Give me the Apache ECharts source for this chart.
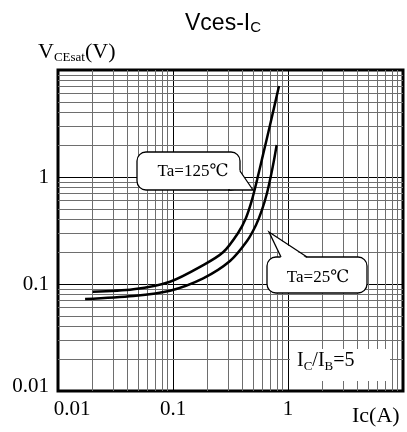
<!DOCTYPE html>
<html>
<head>
<meta charset="utf-8">
<title>Vces-Ic</title>
<script src="https://cdn.jsdelivr.net/npm/echarts@6/dist/echarts.min.js"></script>
<style>html,body{margin:0;padding:0;background:#fff}</style>
</head>
<body>
<div id="main" style="width:407px;height:432px;"></div>
<script type="text/javascript">

    // Ta = 125 C curve (Ic in A, VCEsat in V)
    var ic125 = [0.0200, 0.0452, 0.0942, 0.183, 0.274, 0.368, 0.431, 0.486, 0.538, 0.606, 0.698, 0.835];
    var vce125 = [0.0847, 0.0892, 0.105, 0.150, 0.199, 0.300, 0.414, 0.610, 0.938, 1.61, 3.06, 7.09];

    // Ta = 25 C curve
    var ic25 = [0.0172, 0.0452, 0.0942, 0.183, 0.313, 0.440, 0.527, 0.594, 0.657, 0.712, 0.756, 0.797];
    var vce25 = [0.0724, 0.0773, 0.0866, 0.113, 0.164, 0.252, 0.356, 0.492, 0.709, 1.04, 1.44, 1.99];

    var xTickLabels = ['0.01', '0.1', '1', ''];
    var yTickLabels = ['0.01', '0.1', '1', ''];
    var decades = [0.01, 0.1, 1];

    var serif = 'Liberation Serif';

    function pairs(xs, ys) {
        return xs.map(function (x, i) { return [x, ys[i]]; });
    }

    // light grid lines at 2..9 of every decade
    var minorVals = [];
    decades.forEach(function (d) {
        for (var k = 2; k <= 9; k++) {
            minorVals.push(+(k * d).toPrecision(3));
        }
    });
    var gridMarks = minorVals.map(function (v) { return { xAxis: v }; })
        .concat(minorVals.map(function (v) { return { yAxis: v }; }));

    var myChart = echarts.init(document.getElementById('main'));
    var option = {
        animation: false,
        grid: {
            left: 58, top: 70, right: 4, bottom: 41,
            show: true, borderColor: '#000', borderWidth: 3
        },
        xAxis: {
            type: 'log', logBase: 10, min: 0.01, max: 10,
            axisLine: { show: false },
            axisTick: { show: false },
            splitLine: { show: true, lineStyle: { color: '#000', width: 1 } },
            axisLabel: {
                margin: 8, fontFamily: serif, fontSize: 21, color: '#000',
                formatter: function (v, i) {
                    return i === 0 ? '{sh|' + xTickLabels[i] + '}' : (xTickLabels[i] || '');
                },
                rich: { sh: { padding: [0, 0, 0, 28], fontFamily: serif, fontSize: 21, color: '#000' } }
            }
        },
        yAxis: {
            type: 'log', logBase: 10, min: 0.01, max: 10,
            axisLine: { show: false },
            axisTick: { show: false },
            splitLine: { show: true, lineStyle: { color: '#000', width: 1 } },
            axisLabel: {
                margin: 9, fontFamily: serif, fontSize: 21, color: '#000',
                formatter: function (v, i) {
                    return i === 0 ? '{lo|' + yTickLabels[i] + '}' : (yTickLabels[i] || '');
                },
                rich: { lo: { padding: [0, 0, 10, 0], fontFamily: serif, fontSize: 21, color: '#000' } }
            }
        },
        series: [
            {
                type: 'line', data: [], silent: true,
                markLine: {
                    silent: true, z: 1, animation: false,
                    symbol: ['none', 'none'],
                    label: { show: false },
                    lineStyle: { color: '#6e6e6e', width: 1, type: 'solid' },
                    emphasis: { disabled: true },
                    data: gridMarks
                }
            },
            {
                name: 'Ta=125℃', type: 'line', z: 3,
                data: pairs(ic125, vce125),
                showSymbol: false, smooth: 0.3,
                lineStyle: { color: '#000', width: 2.5 }
            },
            {
                name: 'Ta=25℃', type: 'line', z: 3,
                data: pairs(ic25, vce25),
                showSymbol: false, smooth: 0.3,
                lineStyle: { color: '#000', width: 2.5 }
            }
        ],
        graphic: [
            // title
            {
                type: 'text', left: 185, top: 12, z: 20,
                style: {
                    text: '{a|Vces-I}{b|C}',
                    rich: {
                        a: { fontSize: 23, fontFamily: 'Liberation Sans', lineHeight: 24, fill: '#000' },
                        b: { fontSize: 15, fontFamily: 'Liberation Sans', lineHeight: 15, verticalAlign: 'bottom', fill: '#000' }
                    }
                }
            },
            // y axis name
            {
                type: 'text', left: 38, top: 41, z: 20,
                style: {
                    text: '{a|V}{b|CEsat}{a|(V)}',
                    rich: {
                        a: { fontSize: 22, fontFamily: serif, lineHeight: 24, fill: '#000' },
                        b: { fontSize: 13, fontFamily: serif, lineHeight: 18, verticalAlign: 'bottom', fill: '#000' }
                    }
                }
            },
            // x axis name
            {
                type: 'text', left: 352, top: 405, z: 20,
                style: { text: 'Ic(A)', font: '22px "Liberation Serif"', fill: '#000' }
            },
            // Ta=125 callout
            {
                type: 'rect', z: 10,
                shape: { x: 137, y: 152, width: 103, height: 38, r: 9 },
                style: { fill: '#fff', stroke: '#000', lineWidth: 1.3 }
            },
            {
                type: 'polygon', z: 11,
                shape: { points: [[239, 170], [253, 190], [230, 190], [230, 180]] },
                style: { fill: '#fff', stroke: null }
            },
            {
                type: 'polyline', z: 12,
                shape: { points: [[240, 171], [253, 190], [228, 190]] },
                style: { fill: null, stroke: '#000', lineWidth: 1.3 }
            },
            {
                type: 'text', z: 13, x: 193, y: 172,
                style: {
                    text: 'Ta=125℃', font: '17px "Liberation Serif", "DejaVu Serif"',
                    fill: '#000', align: 'center', verticalAlign: 'middle'
                }
            },
            // Ta=25 callout
            {
                type: 'rect', z: 10,
                shape: { x: 267, y: 257, width: 100, height: 36, r: 9 },
                style: { fill: '#fff', stroke: '#000', lineWidth: 1.3 }
            },
            {
                type: 'polygon', z: 11,
                shape: { points: [[281, 258.5], [269, 232], [307, 258.5]] },
                style: { fill: '#fff', stroke: null }
            },
            {
                type: 'polyline', z: 12,
                shape: { points: [[281, 257], [269, 232], [307, 257]] },
                style: { fill: null, stroke: '#000', lineWidth: 1.3 }
            },
            {
                type: 'text', z: 13, x: 318, y: 278,
                style: {
                    text: 'Ta=25℃', font: '17px "Liberation Serif", "DejaVu Serif"',
                    fill: '#000', align: 'center', verticalAlign: 'middle'
                }
            },
            // Ic/Ib note
            {
                type: 'rect', z: 10,
                shape: { x: 290, y: 349, width: 100, height: 32 },
                style: { fill: '#fff', stroke: null }
            },
            {
                type: 'text', left: 297, top: 351, z: 13,
                style: {
                    text: '{a|I}{b|C}{a|/I}{b|B}{a|=5}',
                    rich: {
                        a: { fontSize: 20, fontFamily: serif, lineHeight: 24, fill: '#000' },
                        b: { fontSize: 13, fontFamily: serif, lineHeight: 16, verticalAlign: 'bottom', fill: '#000' }
                    }
                }
            }
        ]
    };
    myChart.setOption(option);
</script>
</body>
</html>
